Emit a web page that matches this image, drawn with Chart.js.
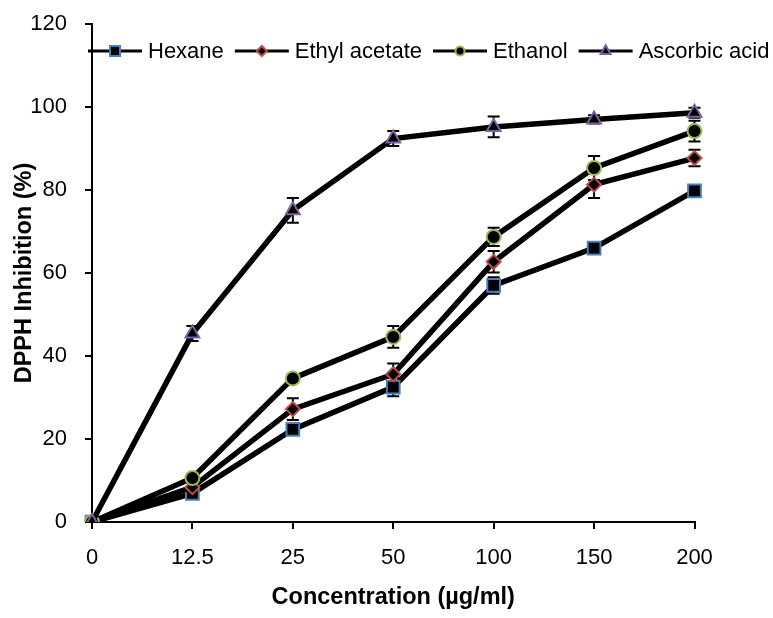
<!DOCTYPE html>
<html>
<head>
<meta charset="utf-8">
<script src="https://cdn.jsdelivr.net/npm/chart.js@4/dist/chart.umd.min.js"></script>
<style>
    body { margin: 0; background: #fff; }
</style>
</head>
<body>
<canvas id="dpphChart" width="773" height="618"></canvas>
<script>
// ---------------------------
// DATA
// ---------------------------
const concentrations = ["0", "12.5", "25", "50", "100", "150", "200"];
const yTicks = [0, 20, 40, 60, 80, 100, 120];

const hexane = [0, 6.9, 22.3, 32.5, 57.0, 66.0, 79.8];
const hexaneErr = [0, 0.5, 1.0, 2.2, 2.0, 1.0, 1.0];

const ethylAcetate = [0, 8.4, 27.2, 35.6, 62.7, 81.3, 87.7];
const ethylAcetateErr = [0, 1.0, 2.6, 2.6, 2.6, 3.2, 2.0];

const ethanol = [0, 10.6, 34.6, 44.6, 68.7, 85.3, 94.2];
const ethanolErr = [0, 1.0, 1.0, 2.6, 2.2, 2.9, 2.5];

const ascorbicAcid = [0, 45.4, 75.1, 92.4, 95.2, 97.0, 98.6];
const ascorbicAcidErr = [0, 1.8, 3.0, 1.8, 2.5, 1.0, 1.2];

const FONT = "'Liberation Sans', Arial, sans-serif";
Chart.defaults.font.family = FONT;
Chart.defaults.color = "#000";

// ---------------------------
// ERROR BARS (drawn through the chart scales)
// ---------------------------
const errorBars = {
    id: "errorBars",
    beforeDatasetsDraw(chart) {
        const ctx = chart.ctx;
        const xs = chart.scales.x;
        const ys = chart.scales.y;
        ctx.save();
        ctx.strokeStyle = "#000";
        ctx.lineWidth = 2;
        chart.data.datasets.forEach(ds => {
            ds.data.forEach((v, i) => {
                const e = ds.errors[i];
                if (!e) return;
                const x = xs.getPixelForValue(i);
                const top = ys.getPixelForValue(v + e);
                const bot = ys.getPixelForValue(v - e);
                ctx.beginPath();
                ctx.moveTo(x, top); ctx.lineTo(x, bot);
                ctx.moveTo(x - 6, top); ctx.lineTo(x + 6, top);
                ctx.moveTo(x - 6, bot); ctx.lineTo(x + 6, bot);
                ctx.stroke();
            });
        });
        ctx.restore();
    }
};

// ---------------------------
// LEGEND (sits inside the plot, over the y axis)
// ---------------------------
function drawMarker(ctx, style, x, y, r) {
    ctx.beginPath();
    if (style === "rect") {
        ctx.rect(x - r, y - r, 2 * r, 2 * r);
    } else if (style === "rectRot") {
        ctx.moveTo(x - r, y); ctx.lineTo(x, y - r);
        ctx.lineTo(x + r, y); ctx.lineTo(x, y + r);
        ctx.closePath();
    } else if (style === "circle") {
        ctx.arc(x, y, r, 0, Math.PI * 2);
    } else {
        const h = r * 1.15;
        ctx.moveTo(x, y - h); ctx.lineTo(x + h * 0.87, y + h * 0.5);
        ctx.lineTo(x - h * 0.87, y + h * 0.5);
        ctx.closePath();
    }
    ctx.fill();
    ctx.stroke();
}

const insideLegend = {
    id: "insideLegend",
    afterDraw(chart) {
        const ctx = chart.ctx;
        const y = 51;
        let x = 88;
        ctx.save();
        ctx.font = "22px " + FONT;
        ctx.textBaseline = "middle";
        ctx.fillStyle = "#000";
        [...chart.data.datasets].sort((a, b) => a.legendIdx - b.legendIdx).forEach(ds => {
            ctx.strokeStyle = "#000";
            ctx.lineWidth = 3;
            ctx.beginPath();
            ctx.moveTo(x, y); ctx.lineTo(x + 54, y);
            ctx.stroke();
            ctx.fillStyle = "#000";
            ctx.strokeStyle = ds.pointBorderColor;
            ctx.lineWidth = 2;
            drawMarker(ctx, ds.pointStyle, x + 27, y, ds.pointStyle === "circle" ? 4.5 : 5);
            ctx.fillStyle = "#000";
            ctx.fillText(ds.label, x + 60, y + 1);
            x += 60 + ctx.measureText(ds.label).width + 11;
        });
        ctx.restore();
    }
};

function series(label, data, errors, color, style, radius, order, legendIdx) {
    return {
        label, data, errors, order, legendIdx,
        borderColor: "#000",
        borderWidth: 5.5,
        tension: 0,
        fill: false,
        pointStyle: style,
        pointRadius: radius,
        pointBackgroundColor: "#000",
        pointBorderColor: color,
        pointBorderWidth: 2
    };
}

new Chart(document.getElementById("dpphChart").getContext("2d"), {
    type: "line",
    data: {
        labels: concentrations,
        datasets: [
            series("Ascorbic acid", ascorbicAcid, ascorbicAcidErr, "#7d60a0", "triangle", 8, 0, 3),
            series("Ethanol", ethanol, ethanolErr, "#98b954", "circle", 7, 1, 2),
            series("Ethyl acetate", ethylAcetate, ethylAcetateErr, "#be4b48", "rectRot", 7, 2, 1),
            series("Hexane", hexane, hexaneErr, "#4a7ebb", "rect", 9, 3, 0)
        ]
    },
    options: {
        responsive: false,
        animation: false,
        layout: { padding: { top: 24, right: 78.5, left: 0, bottom: 0 } },
        plugins: {
            legend: { display: false },
            tooltip: { enabled: false }
        },
        scales: {
            x: {
                type: "category",
                offset: false,
                grid: { drawOnChartArea: false, drawTicks: true, tickLength: 7, color: "#000", lineWidth: 2 },
                border: { color: "#000", width: 2 },
                ticks: { color: "#000", font: { size: 22 }, padding: 16, maxRotation: 0 },
                title: {
                    display: true,
                    text: "Concentration (µg/ml)",
                    color: "#000",
                    font: { size: 23.5, weight: "bold" },
                    padding: { top: 0, bottom: 6 }
                },
                afterFit: s => { s.height = 96; }
            },
            y: {
                min: 0,
                max: 120,
                afterBuildTicks: s => { s.ticks = yTicks.map(v => ({ value: v })); },
                grid: { drawOnChartArea: false, drawTicks: true, tickLength: 7, color: "#000", lineWidth: 2 },
                border: { color: "#000", width: 2 },
                ticks: { color: "#000", font: { size: 22 }, padding: 18 },
                title: {
                    display: true,
                    text: "DPPH Inhibition (%)",
                    color: "#000",
                    font: { size: 23.5, weight: "bold" },
                    padding: { top: 10, bottom: 0 }
                },
                afterFit: s => { s.width = 92; s.paddingTop = 0; s.paddingBottom = 0; }
            }
        }
    },
    plugins: [errorBars, insideLegend]
});
</script>
</body>
</html>
